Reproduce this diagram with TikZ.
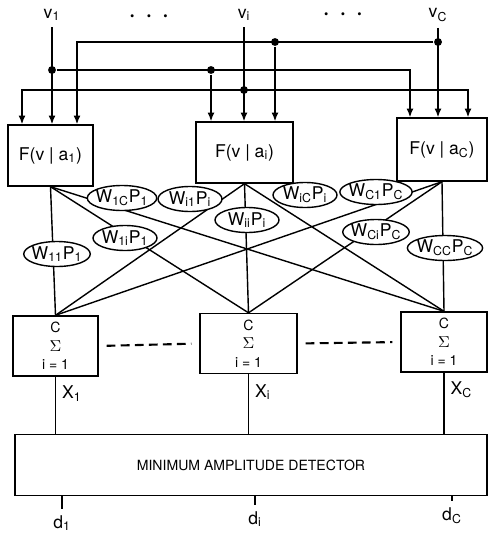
\documentclass[tikz,border=0pt]{standalone}
\usepackage{fontspec}
\setmainfont{TeX Gyre Heros}
\usetikzlibrary{arrows.meta, shapes.geometric}

\newcommand{\lsub}[1]{\textsubscript{#1}}

\begin{document}
\begin{tikzpicture}[x=0.02cm, y=-0.02cm, line width=0.8pt,
    >={Latex[length=5pt, width=4pt]},
    fblock/.style={draw, rectangle, minimum height=1.22cm},
    sblock/.style={draw, rectangle, minimum height=1.2cm, align=center,
                   font=\footnotesize},
    weight/.style={draw, ellipse, fill=white, inner xsep=-1pt, inner ysep=0pt,
                   minimum width=1.28cm, minimum height=0.5cm},
    tap/.style={circle, fill, inner sep=0pt, minimum size=4.5pt},
    dashline/.style={dash pattern=on 5pt off 3pt, line width=1.2pt,
                     shorten <=0.16cm, shorten >=0.16cm}]

    \useasboundingbox (0,0) rectangle (488,534);

    % Eingaenge
    \node (v1) at (52,15) {v\lsub{1}};
    \node (vi) at (244,15) {v\lsub{i}};
    \node (vc) at (438,15) {v\lsub{C}};
    \node (dots1) at (149,18) {\scriptsize\textbullet\hspace{7pt}\textbullet\hspace{7pt}\textbullet};
    \node (dots2) at (343,16) {\scriptsize\textbullet\hspace{7pt}\textbullet\hspace{7pt}\textbullet};

    % Bloecke F(v|a)
    \node[fblock, minimum width=1.7cm] (f1) at (50.5,155.5) {F(v | a\lsub{1})};
    \node[fblock, minimum width=1.94cm] (fi) at (244.5,152.5) {F(v | a\lsub{i})};
    \node[fblock, minimum width=1.8cm, minimum height=1.26cm] (fc) at (442,149.5) {F(v | a\lsub{C})};

    % Verteiler
    \node[tap] (jc) at (438,42) {};
    \node[tap] (ci) at (275,42) {};
    \node[tap] (j1) at (52,70) {};
    \node[tap] (ai) at (211,70) {};
    \node[tap] (ji) at (244,90) {};
    \coordinate (c1) at (77,42);
    \coordinate (ac) at (410,70);
    \coordinate (i1) at (22,90);
    \coordinate (ic) at (468,90);

    \draw[->] (v1) -- (v1 |- f1.north);
    \draw[->] (vi) -- (vi |- fi.north);
    \draw[->] (vc) -- (vc |- fc.north);
    \draw[->] (jc) -- (c1) -- (c1 |- f1.north);
    \draw[->] (ci) -- (ci |- fi.north);
    \draw[->] (j1) -- (ac) -- (ac |- fc.north);
    \draw[->] (ai) -- (ai |- fi.north);
    \draw[<->] (i1 |- f1.north) -- (i1) -- (ic) -- (ic |- fc.north);

    % Summierer
    \node[sblock, minimum width=1.7cm] (s1) at (55.5,346) {C\\[1pt]{\small$\Sigma$}\\[1pt]i = 1};
    \node[sblock, minimum width=1.94cm] (si) at (248.5,343.5) {C\\[1pt]{\small$\Sigma$}\\[1pt]i = 1};
    \node[sblock, minimum width=1.72cm] (sc) at (444,342) {C\\[1pt]{\small$\Sigma$}\\[1pt]i = 1};

    \draw[dashline] (s1.east) -- (si.west);
    \draw[dashline] (si.east) -- (sc.west);

    % Verbindungen
    \foreach \a in {f1,fi,fc}
        \foreach \b in {s1,si,sc}
            \draw (\a.south) -- (\b.north);

    % Gewichte
    \node[weight] (w1c) at (122,198) {W\lsub{1C}P\lsub{1}};
    \node[weight] (wi1) at (190,199) {W\lsub{i1}P\lsub{i}};
    \node[weight] (wic) at (305,195) {W\lsub{iC}P\lsub{i}};
    \node[weight] (wc1) at (376,192) {W\lsub{C1}P\lsub{C}};
    \node[weight] (wii) at (247,220) {W\lsub{ii}P\lsub{i}};
    \node[weight] (w1i) at (125,238) {W\lsub{1i}P\lsub{1}};
    \node[weight] (wci) at (376,232) {W\lsub{Ci}P\lsub{C}};
    \node[weight] (w11) at (57,254) {W\lsub{11}P\lsub{1}};
    \node[weight] (wcc) at (445,248) {W\lsub{CC}P\lsub{C}};

    % Detektor
    \node[draw, minimum width=9.44cm, minimum height=1.22cm, font=\footnotesize]
        (det) at (251,465) {MINIMUM AMPLITUDE DETECTOR};

    \draw (s1.south) -- (s1.south |- det.north) node[right, pos=0.3] {X\lsub{1}};
    \draw (si.south) -- (si.south |- det.north) node[right, pos=0.3] {X\lsub{i}};
    \draw (sc.south) -- (sc.south |- det.north) node[right, pos=0.28] {X\lsub{C}};

    % Ausgaenge
    \node (d1) at (62,523) {d\lsub{1}};
    \node (di) at (255,519) {d\lsub{i}};
    \node (dc) at (452,516) {d\lsub{C}};
    \draw (det.south -| d1) -- (d1);
    \draw (det.south -| di) -- (di);
    \draw (det.south -| dc) -- (dc);

\end{tikzpicture}
\end{document}
